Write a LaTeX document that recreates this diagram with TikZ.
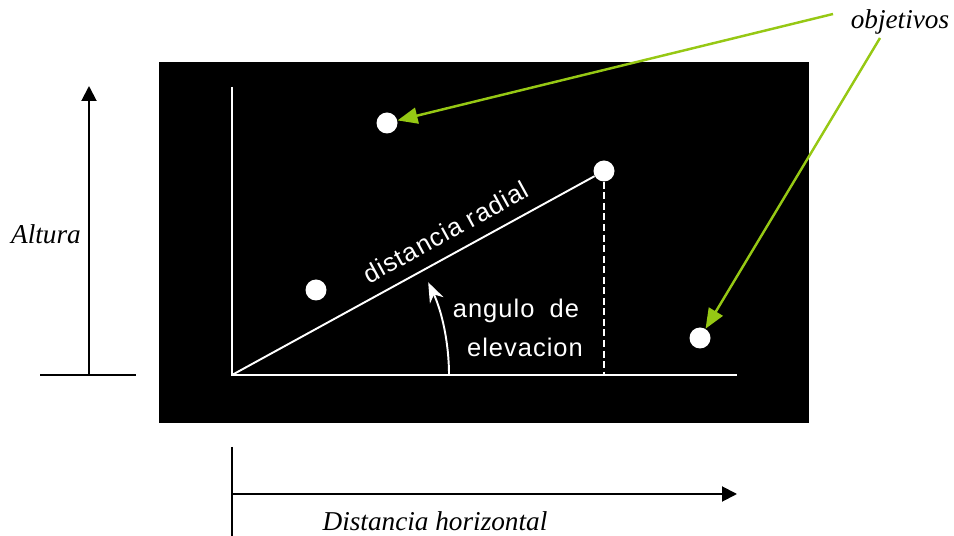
\documentclass[tikz,border=0pt]{standalone}
\usepackage{fontspec}
\setmainfont{Liberation Serif}
\setsansfont{Liberation Sans}
\usetikzlibrary{arrows.meta, positioning, calc}
\definecolor{objgreen}{RGB}{150,200,20}

\begin{document}
\begin{tikzpicture}[x=0.02cm, y=-0.02cm,
        target/.style={circle, fill=white, minimum size=0.42cm, inner sep=0pt},
        lbl/.style={font=\fontsize{15.5}{19}\selectfont\itshape},
        wlbl/.style={text=white, font=\sffamily\fontsize{14.5}{17}\selectfont\addfontfeatures{LetterSpace=4}},
        pointer/.style={draw=objgreen, line width=1.4pt, -{Triangle[length=4mm, width=3.2mm]}},
        axis/.style={draw=white, line width=1.1pt}]
        \useasboundingbox (0,0) rectangle (954,536);
        \fill[black] (159,62) rectangle (809,423);
        % axes inside the black field
        \coordinate (o) at (232,375);
        \coordinate (ytop) at (232,87);
        \coordinate (xend) at (737,375);
        \draw[axis] (ytop) -- (o) -- (xend);
        % targets
        \node[target] (t1) at (387,123) {};
        \node[target] (t2) at (604,171) {};
        \node[target] (t3) at (316,290) {};
        \node[target] (t4) at (700,338) {};
        \draw[axis] (o) -- (t2) node[wlbl, pos=0.62, above, sloped, inner sep=7pt] {distancia radial};
        \draw[axis, dash pattern=on 4pt off 2pt] (t2) -- (t2 |- o);
        \draw[axis, -{Stealth[length=4mm, width=3mm, fill=white]}] (o) ++(217,0) arc[start angle=0, end angle=25.3, radius=4.34cm];
        \node[wlbl] (ang) at (516,311) {angulo\hspace{0.6em}de};
        \node[wlbl] (elev) at (525,347) {elevacion};
        % height scale on the left
        \coordinate (hl) at (40,375);
        \coordinate (hr) at (136,375);
        \draw[line width=1.1pt] (hl) -- (hr);
        \coordinate (hb) at (89,375);
        \coordinate (ht) at (89,86);
        \draw[line width=1.1pt, -{Triangle[length=3mm, width=3mm]}] (hb) -- (ht);
        \node[lbl] (alt) at (46,234) {Altura};
        % horizontal scale below
        \coordinate (vt) at (232,447);
        \coordinate (vb) at (232,536);
        \draw[line width=1.1pt] (vt) -- (vb);
        \coordinate (xa) at (232,494);
        \coordinate (xb) at (737,494);
        \draw[line width=1.1pt, -{Triangle[length=3mm, width=3mm]}] (xa) -- (xb);
        \node[lbl] (dist) at (435,521) {Distancia horizontal};
        % objetivos
        \node[lbl] (obj) at (900,22) {objetivos};
        \coordinate (g1) at (833,14);
        \coordinate (g2) at (880,38);
        \draw[pointer] (g1) -- (t1);
        \draw[pointer] (g2) -- (t4);
    \end{tikzpicture}
\end{document}
